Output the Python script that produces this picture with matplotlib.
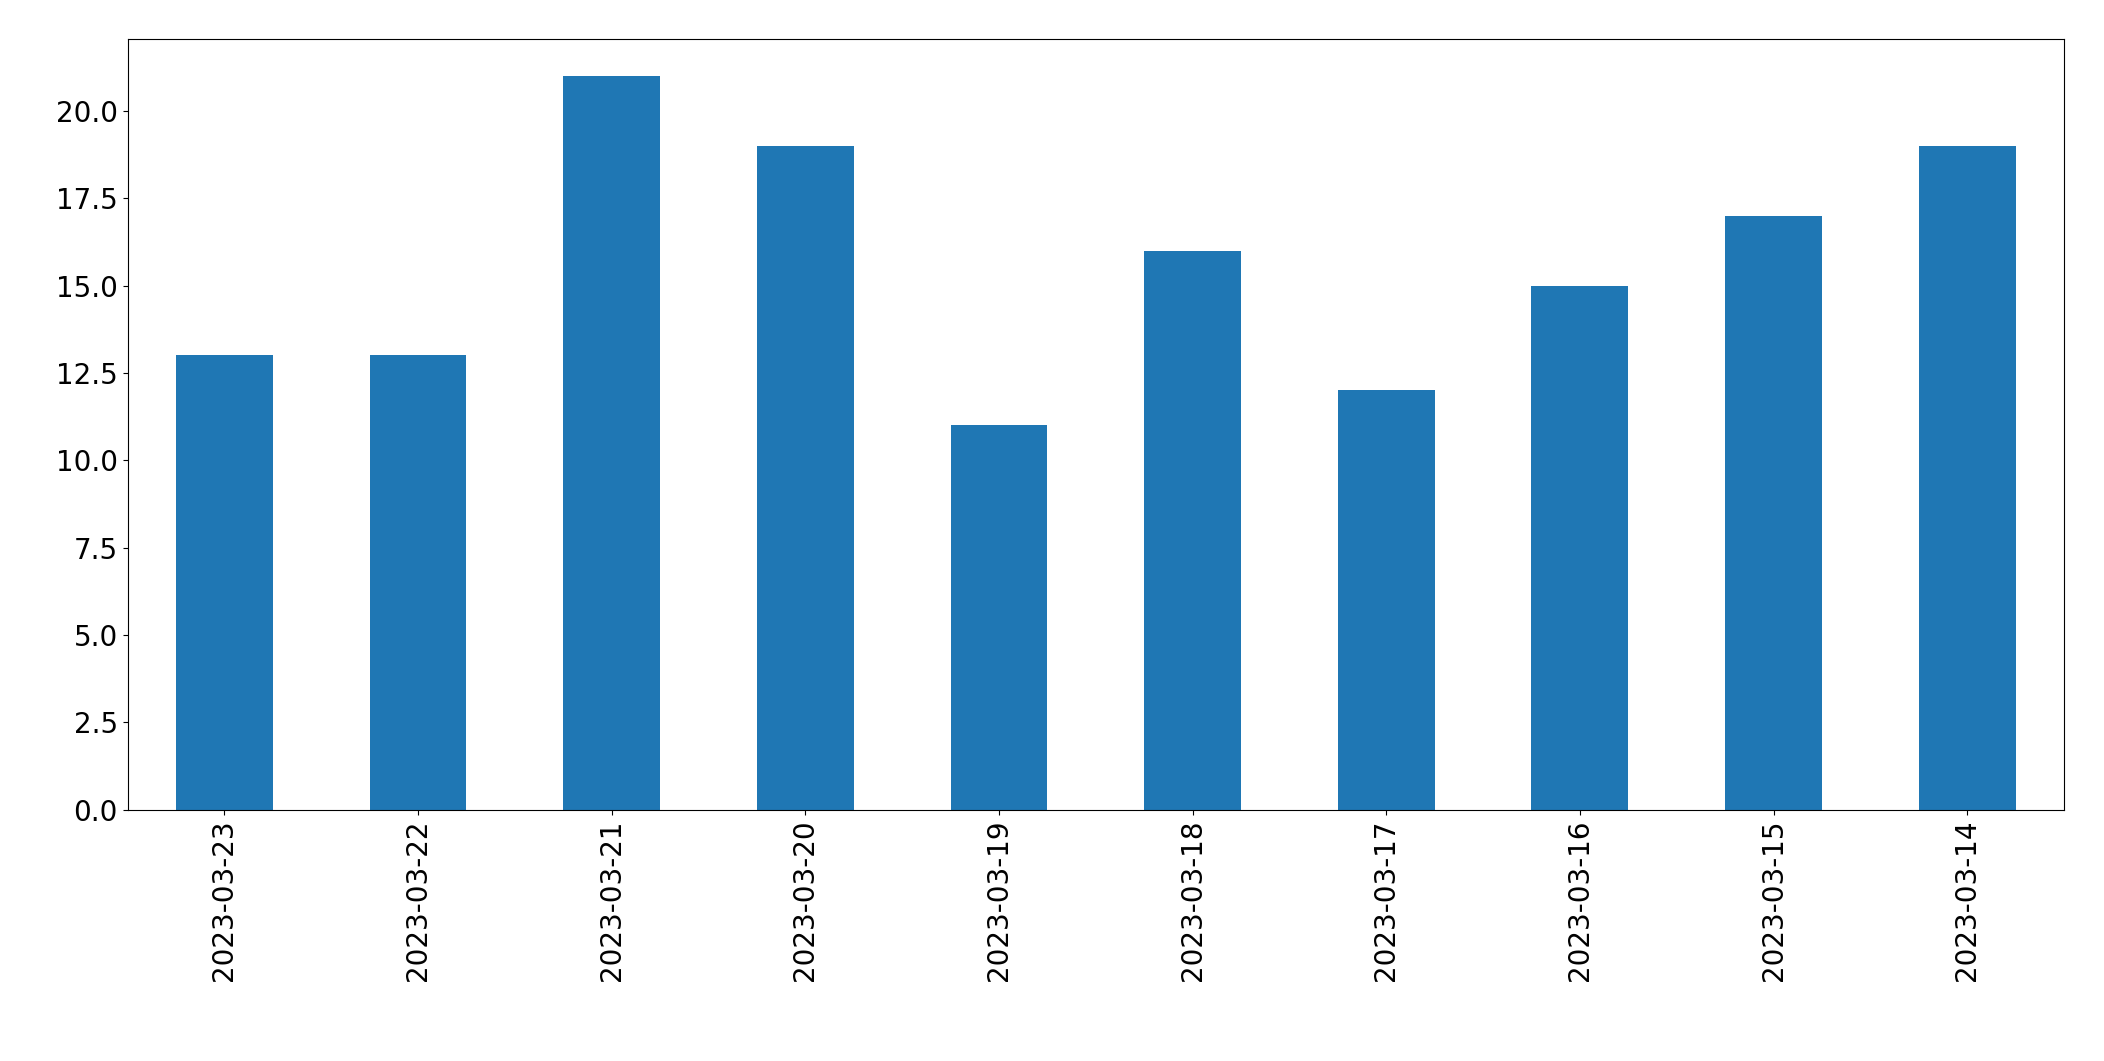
import matplotlib
matplotlib.use("Agg")
import matplotlib.pyplot as plt

dates = ["2023-03-23","2023-03-22","2023-03-21","2023-03-20","2023-03-19",
         "2023-03-18","2023-03-17","2023-03-16","2023-03-15","2023-03-14"]
counts = [13, 13, 21, 19, 11, 16, 12, 15, 17, 19]

fig = plt.figure(figsize=(21.04, 10.61), dpi=100)
ax = fig.add_axes([0.0606, 0.237, 0.9204, 0.726])
x = range(len(dates))
ax.bar(x, counts, width=0.5, color="#1f77b4")
ax.set_xlim(-0.5, len(dates) - 0.5)
ax.set_xticks(list(x))
ax.set_xticklabels(dates, rotation=90, fontsize=20)
ax.tick_params(axis="y", labelsize=20)
ax.set_yticks([0, 2.5, 5, 7.5, 10, 12.5, 15, 17.5, 20])
ax.set_yticklabels([f"{v:.1f}" for v in [0, 2.5, 5, 7.5, 10, 12.5, 15, 17.5, 20]])
ax.set_ylim(0, 22.05)
fig.savefig("out.png", dpi=100)
